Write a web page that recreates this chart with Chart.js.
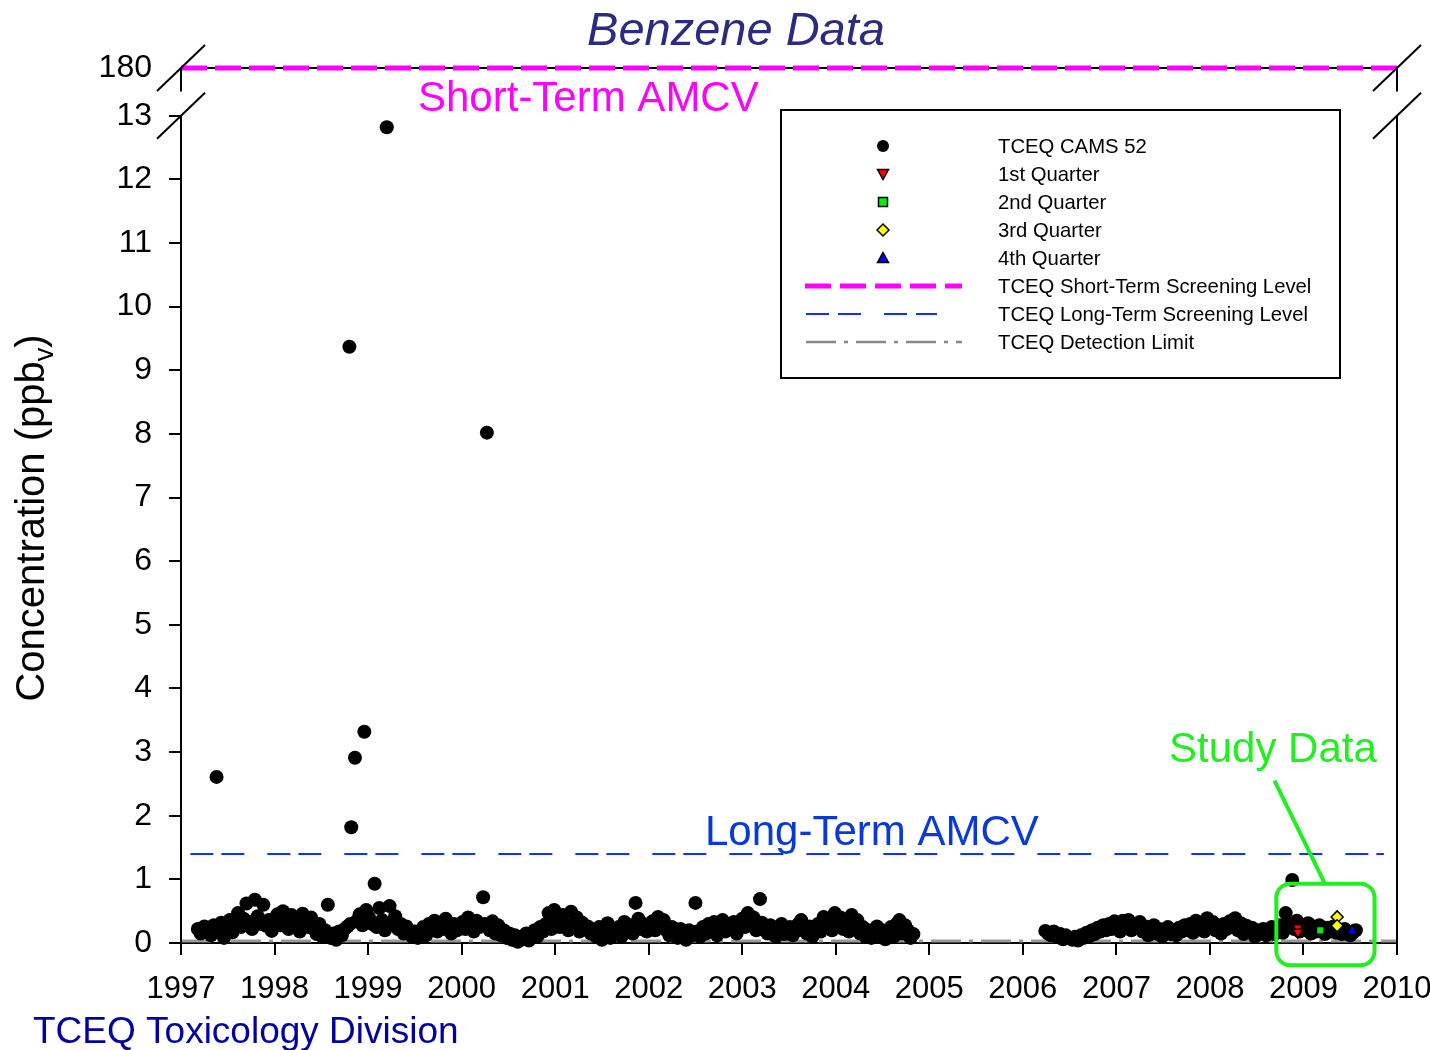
<!DOCTYPE html>
<html>
<head>
<meta charset="utf-8">
<script src="https://cdn.jsdelivr.net/npm/chart.js@4.4.0/dist/chart.umd.min.js"></script>
<style>
html,body{margin:0;padding:0;background:#fff;}
#wrap{width:1430px;height:1050px;position:relative;}
</style>
</head>
<body>
<div id="wrap"><canvas id="c" width="1430" height="1050"></canvas></div>
<script>
// ---------- DATA (decimal year, ppbv) ----------
const y1997 = [[1997.18,0.22],[1997.21,0.15],[1997.25,0.26],[1997.28,0.20],[1997.32,0.12],[1997.35,0.28],[1997.38,2.61],[1997.40,0.18],[1997.43,0.32],[1997.46,0.08],[1997.49,0.24],[1997.52,0.36],[1997.55,0.17],[1997.58,0.30],[1997.61,0.47],[1997.64,0.25],[1997.67,0.38],[1997.70,0.62],[1997.73,0.33],[1997.76,0.22],[1997.79,0.68],[1997.82,0.42],[1997.85,0.30],[1997.88,0.60],[1997.91,0.27],[1997.94,0.36],[1997.97,0.19]];
const y1998 = [[1998.00,0.31],[1998.03,0.45],[1998.06,0.28],[1998.09,0.50],[1998.12,0.35],[1998.15,0.22],[1998.18,0.44],[1998.21,0.30],[1998.24,0.38],[1998.27,0.18],[1998.30,0.46],[1998.33,0.33],[1998.36,0.25],[1998.39,0.40],[1998.42,0.22],[1998.45,0.14],[1998.48,0.30],[1998.51,0.10],[1998.54,0.20],[1998.57,0.60],[1998.60,0.08],[1998.63,0.15],[1998.66,0.05],[1998.69,0.18],[1998.72,0.12],[1998.75,0.22],[1998.78,0.26],[1998.80,9.37],[1998.81,0.30],[1998.82,1.82],[1998.86,2.91],[1998.88,0.35],[1998.91,0.45],[1998.94,0.28],[1998.96,3.32],[1998.98,0.52]];
const y1999 = [[1999.01,0.40],[1999.04,0.30],[1999.07,0.93],[1999.09,0.25],[1999.12,0.55],[1999.15,0.36],[1999.18,0.20],[1999.20,12.82],[1999.23,0.58],[1999.26,0.33],[1999.29,0.42],[1999.32,0.22],[1999.35,0.30],[1999.38,0.15],[1999.41,0.26],[1999.44,0.20],[1999.47,0.10],[1999.50,0.18],[1999.53,0.08],[1999.56,0.14],[1999.59,0.25],[1999.62,0.12],[1999.65,0.30],[1999.68,0.20],[1999.71,0.35],[1999.74,0.18],[1999.77,0.28],[1999.80,0.22],[1999.83,0.38],[1999.86,0.25],[1999.89,0.15],[1999.92,0.30],[1999.95,0.20],[1999.98,0.27]];
const y2000 = [[2000.01,0.33],[2000.04,0.22],[2000.07,0.40],[2000.10,0.28],[2000.13,0.18],[2000.16,0.35],[2000.19,0.25],[2000.23,0.72],[2000.25,0.30],[2000.27,8.02],[2000.30,0.20],[2000.33,0.34],[2000.36,0.15],[2000.39,0.28],[2000.42,0.12],[2000.45,0.20],[2000.48,0.08],[2000.51,0.15],[2000.54,0.05],[2000.57,0.12],[2000.60,0.02],[2000.63,0.10],[2000.66,0.06],[2000.69,0.15],[2000.72,0.04],[2000.75,0.12],[2000.78,0.20],[2000.81,0.10],[2000.84,0.25],[2000.87,0.18],[2000.90,0.30],[2000.93,0.47],[2000.96,0.22],[2000.99,0.52]];
const y2001 = [[2001.02,0.35],[2001.05,0.25],[2001.08,0.44],[2001.11,0.30],[2001.14,0.20],[2001.17,0.49],[2001.20,0.28],[2001.23,0.40],[2001.26,0.18],[2001.29,0.32],[2001.32,0.22],[2001.35,0.26],[2001.38,0.15],[2001.41,0.20],[2001.44,0.10],[2001.47,0.25],[2001.50,0.05],[2001.53,0.12],[2001.56,0.31],[2001.59,0.08],[2001.62,0.18],[2001.65,0.14],[2001.68,0.25],[2001.71,0.10],[2001.74,0.33],[2001.77,0.20],[2001.80,0.28],[2001.83,0.15],[2001.86,0.63],[2001.89,0.38],[2001.92,0.22],[2001.95,0.30],[2001.98,0.18]];
const y2002 = [[2002.01,0.26],[2002.04,0.34],[2002.07,0.20],[2002.10,0.41],[2002.13,0.28],[2002.16,0.36],[2002.19,0.20],[2002.22,0.12],[2002.25,0.25],[2002.28,0.18],[2002.31,0.08],[2002.34,0.22],[2002.37,0.15],[2002.40,0.05],[2002.43,0.20],[2002.46,0.12],[2002.50,0.63],[2002.52,0.18],[2002.55,0.10],[2002.58,0.25],[2002.61,0.15],[2002.64,0.30],[2002.67,0.20],[2002.70,0.33],[2002.73,0.12],[2002.76,0.25],[2002.79,0.36],[2002.82,0.18],[2002.85,0.30],[2002.88,0.22],[2002.91,0.33],[2002.94,0.15],[2002.97,0.26]];
const y2003 = [[2003.00,0.38],[2003.03,0.25],[2003.06,0.47],[2003.09,0.30],[2003.12,0.40],[2003.15,0.20],[2003.19,0.69],[2003.21,0.32],[2003.24,0.22],[2003.27,0.15],[2003.30,0.28],[2003.33,0.18],[2003.36,0.10],[2003.39,0.22],[2003.42,0.30],[2003.45,0.14],[2003.48,0.20],[2003.51,0.25],[2003.54,0.12],[2003.57,0.18],[2003.60,0.30],[2003.63,0.36],[2003.66,0.20],[2003.69,0.15],[2003.72,0.26],[2003.75,0.10],[2003.78,0.22],[2003.81,0.30],[2003.84,0.18],[2003.87,0.41],[2003.90,0.28],[2003.93,0.35],[2003.96,0.20],[2003.99,0.47]];
const y2004 = [[2004.02,0.30],[2004.05,0.40],[2004.08,0.22],[2004.11,0.33],[2004.14,0.18],[2004.17,0.44],[2004.20,0.28],[2004.23,0.36],[2004.26,0.15],[2004.29,0.25],[2004.32,0.10],[2004.35,0.20],[2004.38,0.08],[2004.41,0.16],[2004.44,0.26],[2004.47,0.12],[2004.50,0.20],[2004.53,0.06],[2004.56,0.18],[2004.59,0.25],[2004.62,0.10],[2004.65,0.30],[2004.68,0.36],[2004.71,0.15],[2004.74,0.28],[2004.77,0.20],[2004.80,0.08],[2004.83,0.14]];
const y2006 = [[2006.24,0.19],[2006.27,0.15],[2006.30,0.12],[2006.33,0.18],[2006.36,0.10],[2006.40,0.14],[2006.43,0.06],[2006.46,0.12],[2006.50,0.08],[2006.53,0.05],[2006.56,0.10],[2006.59,0.04],[2006.62,0.12],[2006.65,0.08],[2006.68,0.16],[2006.71,0.10],[2006.74,0.20],[2006.77,0.14],[2006.80,0.24],[2006.83,0.18],[2006.86,0.28],[2006.89,0.20],[2006.92,0.30],[2006.95,0.22],[2006.98,0.34]];
const y2007 = [[2007.01,0.26],[2007.04,0.18],[2007.07,0.35],[2007.10,0.28],[2007.13,0.36],[2007.16,0.20],[2007.19,0.30],[2007.22,0.24],[2007.25,0.33],[2007.28,0.18],[2007.31,0.26],[2007.34,0.12],[2007.37,0.20],[2007.40,0.28],[2007.43,0.15],[2007.46,0.22],[2007.49,0.10],[2007.52,0.18],[2007.55,0.25],[2007.58,0.14],[2007.61,0.20],[2007.64,0.12],[2007.67,0.24],[2007.70,0.18],[2007.73,0.28],[2007.76,0.20],[2007.79,0.30],[2007.82,0.16],[2007.85,0.35],[2007.88,0.22],[2007.91,0.30],[2007.94,0.18],[2007.97,0.39]];
const y2008 = [[2008.00,0.26],[2008.03,0.33],[2008.06,0.20],[2008.09,0.28],[2008.12,0.15],[2008.15,0.30],[2008.18,0.22],[2008.21,0.34],[2008.24,0.26],[2008.27,0.39],[2008.30,0.20],[2008.33,0.31],[2008.36,0.14],[2008.39,0.27],[2008.42,0.18],[2008.45,0.24],[2008.48,0.10],[2008.51,0.20],[2008.54,0.15],[2008.57,0.22],[2008.60,0.12],[2008.63,0.18],[2008.66,0.25],[2008.69,0.14],[2008.72,0.20],[2008.75,0.28],[2008.78,0.16],[2008.81,0.47],[2008.84,0.30],[2008.88,0.99],[2008.90,0.22],[2008.93,0.35],[2008.96,0.18],[2008.99,0.28]];
const y2009 = [[2009.02,0.20],[2009.05,0.31],[2009.08,0.15],[2009.11,0.26],[2009.14,0.18],[2009.17,0.28],[2009.20,0.22],[2009.23,0.14],[2009.26,0.24],[2009.29,0.18],[2009.32,0.26],[2009.35,0.16],[2009.38,0.20],[2009.41,0.14],[2009.44,0.22],[2009.47,0.18],[2009.50,0.12],[2009.53,0.16],[2009.56,0.20]];

const quarter1 = [[2008.94,0.24],[2008.94,0.17]];
const quarter2 = [[2009.18,0.20]];
const quarter3 = [[2009.36,0.41],[2009.36,0.27]];
const quarter4 = [[2009.52,0.19]];

const shortTermLevel = 180;   // ppbv (shown above axis break)
const longTermLevel = 1.4;    // ppbv
const detectionLimit = 0.03;  // ppbv

const xTickYears = [1997,1998,1999,2000,2001,2002,2003,2004,2005,2006,2007,2008,2009,2010];
const yTickValues = [0,1,2,3,4,5,6,7,8,9,10,11,12,13];
const breakTop = 13.75;       // axis position where 180 is drawn
const breakGapBottom = 13.38; // end of upper axis stub

// ---------- helpers ----------
const toAxis = v => v > 13 ? breakTop : v;
const pts = arr => arr.map(p => ({x:p[0], y:toAxis(p[1])}));
const camsAll = [].concat(y1997,y1998,y1999,y2000,y2001,y2002,y2003,y2004,y2006,y2007,y2008,y2009);
const FONT = '"Liberation Sans", Arial, Helvetica, sans-serif';

const decor = {
  id:'decor',
  beforeDatasetsDraw(chart){
    const {ctx, chartArea:a, scales:{y}} = chart;
    const yt = y.getPixelForValue(breakTop);
    ctx.save();
    ctx.strokeStyle='#000'; ctx.lineWidth=2;
    ctx.beginPath(); ctx.moveTo(a.left, yt); ctx.lineTo(a.right, yt); ctx.stroke();
    ctx.restore();
  },
  afterDraw(chart){
    const {ctx, chartArea:a, scales:{x,y}} = chart;
    ctx.save();
    ctx.strokeStyle='#000'; ctx.lineWidth=2;
    const y0 = y.getPixelForValue(0), y13 = y.getPixelForValue(13);
    const yt = y.getPixelForValue(breakTop), yg = y.getPixelForValue(breakGapBottom);
    [a.left, a.right].forEach(px=>{
      ctx.beginPath(); ctx.moveTo(px, y0); ctx.lineTo(px, y13); ctx.stroke();
      ctx.beginPath(); ctx.moveTo(px, yt); ctx.lineTo(px, yg); ctx.stroke();
      [yt, y13].forEach(yy=>{
        ctx.beginPath(); ctx.moveTo(px-24, yy+23); ctx.lineTo(px+24, yy-23); ctx.stroke();
      });
    });

    // title
    ctx.fillStyle='#2b2b80';
    ctx.font='italic 47px '+FONT;
    ctx.textAlign='center'; ctx.textBaseline='alphabetic';
    ctx.fillText('Benzene Data', 736, 45);

    // annotations
    ctx.textAlign='left';
    ctx.font='42px '+FONT;
    ctx.fillStyle='#ff00ff';
    ctx.fillText('Short-Term AMCV', 418, 111);
    ctx.fillStyle='#0a3ad6';
    ctx.fillText('Long-Term AMCV', 705, 845);
    ctx.fillStyle='#22ee22';
    ctx.font='42px '+FONT;
    ctx.fillText('Study Data', 1169, 762);

    // study box
    const bx0 = x.getPixelForValue(2008.71), bx1 = x.getPixelForValue(2009.76);
    const by0 = y.getPixelForValue(0.93), by1 = y.getPixelForValue(-0.35);
    ctx.strokeStyle='#22ee22'; ctx.lineWidth=4;
    ctx.beginPath();
    if (ctx.roundRect) ctx.roundRect(bx0, by0, bx1-bx0, by1-by0, 14); else ctx.rect(bx0, by0, bx1-bx0, by1-by0);
    ctx.stroke();
    ctx.beginPath();
    ctx.moveTo(x.getPixelForValue(2008.69), y.getPixelForValue(2.55));
    ctx.lineTo(x.getPixelForValue(2009.23), by0);
    ctx.stroke();

    // bottom label
    ctx.fillStyle='#0000a0';
    ctx.font='37px '+FONT;
    ctx.fillText('TCEQ Toxicology Division', 33, 1043);

    // y axis title with subscript
    ctx.save();
    ctx.translate(44, 518);
    ctx.rotate(-Math.PI/2);
    ctx.fillStyle='#000';
    const p1='Concentration (ppb', p3=')';
    ctx.font='40px '+FONT; const w1=ctx.measureText(p1).width, w3=ctx.measureText(p3).width;
    ctx.font='27px '+FONT; const w2=ctx.measureText('v').width;
    let sx = -(w1+w2+w3)/2;
    ctx.textAlign='left';
    ctx.font='40px '+FONT; ctx.fillText(p1, sx, 0); sx+=w1;
    ctx.font='27px '+FONT; ctx.fillText('v', sx, 9); sx+=w2;
    ctx.font='40px '+FONT; ctx.fillText(p3, sx, 0);
    ctx.restore();

    // legend
    const L = {x0:781, y0:110, x1:1340, y1:378};
    ctx.fillStyle='#fff'; ctx.fillRect(L.x0, L.y0, L.x1-L.x0, L.y1-L.y0);
    ctx.strokeStyle='#000'; ctx.lineWidth=2;
    ctx.strokeRect(L.x0, L.y0, L.x1-L.x0, L.y1-L.y0);
    const rows=[146,174,202,230,258,286,314,342];
    const labels=['TCEQ CAMS 52','1st Quarter','2nd Quarter','3rd Quarter','4th Quarter','TCEQ Short-Term Screening Level','TCEQ Long-Term Screening Level','TCEQ Detection Limit'];
    ctx.font='20.3px '+FONT; ctx.fillStyle='#000'; ctx.textBaseline='middle'; ctx.textAlign='left';
    labels.forEach((t,i)=>ctx.fillText(t, 998, rows[i]+1));
    const mx=883;
    ctx.fillStyle='#000'; ctx.beginPath(); ctx.arc(mx, rows[0], 6, 0, Math.PI*2); ctx.fill();
    ctx.lineWidth=1.5; ctx.strokeStyle='#000';
    ctx.fillStyle='#ff0000'; ctx.beginPath();
    ctx.moveTo(mx-5.5, rows[1]-4.5); ctx.lineTo(mx+5.5, rows[1]-4.5); ctx.lineTo(mx, rows[1]+5.5); ctx.closePath(); ctx.fill(); ctx.stroke();
    ctx.fillStyle='#00ee00'; ctx.fillRect(mx-4.5, rows[2]-4.5, 9, 9); ctx.strokeRect(mx-4.5, rows[2]-4.5, 9, 9);
    ctx.fillStyle='#ffff00'; ctx.beginPath();
    ctx.moveTo(mx, rows[3]-6); ctx.lineTo(mx+6, rows[3]); ctx.lineTo(mx, rows[3]+6); ctx.lineTo(mx-6, rows[3]); ctx.closePath(); ctx.fill(); ctx.stroke();
    ctx.fillStyle='#0000ff'; ctx.beginPath();
    ctx.moveTo(mx-5.5, rows[4]+4.5); ctx.lineTo(mx+5.5, rows[4]+4.5); ctx.lineTo(mx, rows[4]-5.5); ctx.closePath(); ctx.fill(); ctx.stroke();
    ctx.lineCap='butt';
    ctx.strokeStyle='#ff00ff'; ctx.lineWidth=5; ctx.setLineDash([26,9]);
    ctx.beginPath(); ctx.moveTo(805, rows[5]); ctx.lineTo(962, rows[5]); ctx.stroke();
    ctx.strokeStyle='#1030ff'; ctx.lineWidth=2; ctx.setLineDash([23,9,23,23]);
    ctx.beginPath(); ctx.moveTo(806, rows[6]); ctx.lineTo(937, rows[6]); ctx.stroke();
    ctx.strokeStyle='#888'; ctx.lineWidth=2.5; ctx.setLineDash([30,8,4,8]);
    ctx.beginPath(); ctx.moveTo(806, rows[7]); ctx.lineTo(962, rows[7]); ctx.stroke();
    ctx.setLineDash([]);
    ctx.restore();
  }
};

new Chart(document.getElementById('c'), {
  type:'scatter',
  data:{
    datasets:[
      {label:'1st Quarter', data:pts(quarter1), pointStyle:'triangle', rotation:180, pointRadius:6, backgroundColor:'#ff0000', borderColor:'#000', borderWidth:1.5, order:0, clip:false},
      {label:'2nd Quarter', data:pts(quarter2), pointStyle:'rect', pointRadius:5.5, backgroundColor:'#00ee00', borderColor:'#000', borderWidth:1.5, order:0, clip:false},
      {label:'3rd Quarter', data:pts(quarter3), pointStyle:'rectRot', pointRadius:6, backgroundColor:'#ffff00', borderColor:'#000', borderWidth:1.5, order:0, clip:false},
      {label:'4th Quarter', data:pts(quarter4), pointStyle:'triangle', pointRadius:6, backgroundColor:'#0000ff', borderColor:'#000', borderWidth:1.5, order:0, clip:false},
      {label:'TCEQ CAMS 52', data:pts(camsAll), pointStyle:'circle', pointRadius:7, backgroundColor:'#000', borderColor:'#000', borderWidth:0, order:1, clip:false},
      {label:'Short-Term', type:'line', data:pts([[1997,shortTermLevel],[2010,shortTermLevel]]), borderColor:'#ff00ff', borderWidth:5, borderDash:[26,8], pointRadius:0, showLine:true, order:2, clip:false},
      {label:'Long-Term', type:'line', data:pts([[1997.1,longTermLevel],[2009.86,longTermLevel]]), borderColor:'#1030ff', borderWidth:2, borderDash:[23,8,23,23], pointRadius:0, showLine:true, order:2},
      {label:'Detection', type:'line', data:pts([[1997,detectionLimit],[2010,detectionLimit]]), borderColor:'#999', borderWidth:3, borderDash:[30,8,4,8], pointRadius:0, showLine:true, order:3}
    ]
  },
  options:{
    responsive:false, animation:false, devicePixelRatio:1,
    layout:{padding:{top:68, right:33, left:0, bottom:0}},
    plugins:{legend:{display:false}, tooltip:{enabled:false}, title:{display:false}},
    scales:{
      x:{
        type:'linear', min:1997, max:2010,
        afterFit:s=>{s.height=107; s.paddingLeft=0; s.paddingRight=0;},
        afterBuildTicks:s=>{s.ticks = xTickYears.map(v=>({value:v}));},
        ticks:{callback:v=>String(v), font:{family:FONT, size:31}, color:'#000', padding:16, maxRotation:0, autoSkip:false},
        grid:{display:true, drawOnChartArea:false, drawTicks:true, tickLength:12, color:'#000', lineWidth:2},
        border:{display:true, color:'#000', width:2}
      },
      y:{
        type:'linear', min:0, max:breakTop,
        afterFit:s=>{s.width=181; s.paddingTop=0; s.paddingBottom=0;},
        afterBuildTicks:s=>{s.ticks = yTickValues.concat([breakTop]).map(v=>({value:v}));},
        ticks:{callback:v=> v===breakTop ? String(shortTermLevel) : String(v), font:{family:FONT, size:32}, color:'#000', padding:17, autoSkip:false},
        grid:{display:true, drawOnChartArea:false, drawTicks:true, tickLength:12, lineWidth:2,
              color:c=> (c.tick && c.tick.value===breakTop) ? 'rgba(0,0,0,0)' : '#000'},
        border:{display:false}
      }
    }
  },
  plugins:[decor]
});
</script>
</body>
</html>
